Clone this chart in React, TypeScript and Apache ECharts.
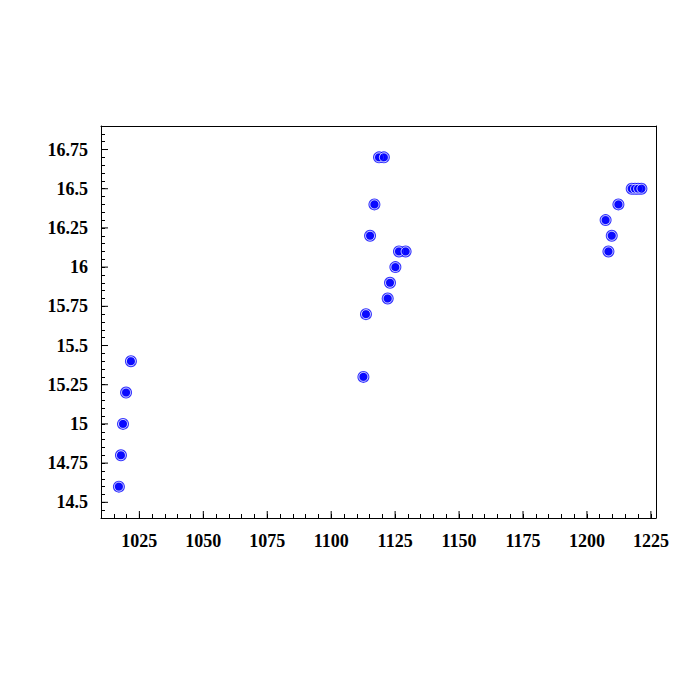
import React, { useEffect, useRef } from "react";
import * as echarts from "echarts";

const xValues = [
  1017.0, 1017.8, 1018.6, 1019.8, 1021.7,
  1118.7, 1120.6, 1116.9, 1115.2, 1126.5, 1129.1, 1125.1, 1123.0, 1122.1, 1113.6, 1112.6,
  1217.5, 1218.8, 1220.0, 1221.3, 1212.3, 1207.3, 1209.7, 1208.4,
];
const yValues = [
  14.6, 14.8, 15.0, 15.2, 15.4,
  16.7, 16.7, 16.4, 16.2, 16.1, 16.1, 16.0, 15.9, 15.8, 15.7, 15.3,
  16.5, 16.5, 16.5, 16.5, 16.4, 16.3, 16.2, 16.1,
];
const xMajorTicks = [1025, 1050, 1075, 1100, 1125, 1150, 1175, 1200, 1225];
const yMajorTicks = [14.5, 14.75, 15, 15.25, 15.5, 15.75, 16, 16.25, 16.5, 16.75];

const X_MIN = 1010;
const X_MAX = 1227;
const Y_MIN = 14.4;
const Y_MAX = 16.9;

export default function App() {
  const ref = useRef<HTMLDivElement>(null);
  useEffect(() => {
    if (!ref.current) return;
    const chart = echarts.init(ref.current, null, { renderer: "svg" });
    const data = xValues.map((x, i) => [x, yValues[i]]);
    const font = {
      fontFamily: "Liberation Serif",
      fontWeight: "bold" as const,
      fontSize: 18,
      color: "#000",
    };
    const isMultiple = (v: number, step: number) =>
      Math.abs(v / step - Math.round(v / step)) < 1e-6;
    chart.setOption({
      animation: false,
      backgroundColor: "#fff",
      grid: {
        left: 101,
        top: 126,
        right: 40,
        bottom: 178,
        show: false,
      },
      xAxis: [
        {
          type: "value",
          min: X_MIN,
          max: X_MAX,
          interval: 5,
          position: "bottom",
          axisLine: { show: true, onZero: false, lineStyle: { color: "#000", width: 1 } },
          axisTick: { show: true, inside: true, length: 4, lineStyle: { color: "#000", width: 1 } },
          splitLine: { show: false },
          axisLabel: {
            ...font,
            margin: 14,
            showMinLabel: true,
            showMaxLabel: true,
            formatter: (v: number) => (isMultiple(v, 25) ? String(Math.round(v)) : ""),
          },
        },
        {
          type: "value",
          min: X_MIN,
          max: X_MAX,
          position: "top",
          axisLine: { show: true, onZero: false, lineStyle: { color: "#000", width: 1 } },
          axisTick: { show: false },
          splitLine: { show: false },
          axisLabel: { show: false },
        },
      ],
      yAxis: [
        {
          type: "value",
          min: Y_MIN,
          max: Y_MAX,
          interval: 0.05,
          position: "left",
          axisLine: { show: true, onZero: false, lineStyle: { color: "#000", width: 1 } },
          axisTick: { show: true, inside: true, length: 4, lineStyle: { color: "#000", width: 1 } },
          splitLine: { show: false },
          axisLabel: {
            ...font,
            margin: 13,
            showMinLabel: true,
            showMaxLabel: true,
            formatter: (v: number) =>
              isMultiple(v, 0.25) ? String(Math.round(v * 100) / 100) : "",
          },
        },
        {
          type: "value",
          min: Y_MIN,
          max: Y_MAX,
          position: "right",
          axisLine: { show: true, onZero: false, lineStyle: { color: "#000", width: 1 } },
          axisTick: { show: false },
          splitLine: { show: false },
          axisLabel: { show: false },
        },
      ],
      series: [
        {
          type: "custom",
          xAxisIndex: 0,
          yAxisIndex: 0,
          data: xMajorTicks.map((v) => [v, Y_MIN]),
          silent: true,
          clip: false,
          renderItem: (params: any, api: any) => {
            const p = api.coord([api.value(0), api.value(1)]);
            return {
              type: "line",
              shape: { x1: p[0], y1: p[1], x2: p[0], y2: p[1] - 7 },
              style: { stroke: "#000", lineWidth: 1 },
            };
          },
          z: 1,
        },
        {
          type: "custom",
          xAxisIndex: 0,
          yAxisIndex: 0,
          data: yMajorTicks.map((v) => [X_MIN, v]),
          silent: true,
          clip: false,
          renderItem: (params: any, api: any) => {
            const p = api.coord([api.value(0), api.value(1)]);
            return {
              type: "line",
              shape: { x1: p[0], y1: p[1], x2: p[0] + 7, y2: p[1] },
              style: { stroke: "#000", lineWidth: 1 },
            };
          },
          z: 1,
        },
        {
          type: "scatter",
          data,
          symbol: "circle",
          symbolSize: 12,
          itemStyle: { color: "#0000ff" },
          z: 2,
        },
        {
          type: "scatter",
          data,
          symbol: "circle",
          symbolSize: 9,
          itemStyle: { color: "#0000ff", borderColor: "#ffffff", borderWidth: 1 },
          z: 3,
        },
      ],
    });
    return () => chart.dispose();
  }, []);
  return (
    <div
      ref={ref}
      style={{ position: "fixed", left: 0, top: 0, width: 696, height: 696 }}
    />
  );
}
